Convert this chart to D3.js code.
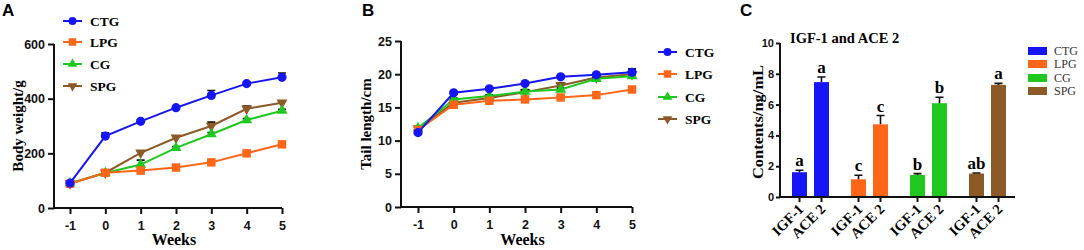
<!DOCTYPE html>
<html>
<head>
<meta charset="utf-8">
<script src="https://cdn.jsdelivr.net/npm/d3@7"></script>
<style>
  body { margin: 0; background: #fff; }
  svg { display: block; }
</style>
</head>
<body>
<div class="chart"></div>
<script>
// ---- data ----
const groups = ["CTG", "LPG", "CG", "SPG"];
const weeks = [-1, 0, 1, 2, 3, 4, 5];

const weightCTG = [91, 263, 317, 367, 412, 455, 478];
const weightLPG = [89, 129, 137, 148, 167, 200, 233];
const weightCG = [90, 128, 159, 220, 270, 322, 356];
const weightSPG = [90, 129, 202, 257, 300, 363, 385];
const weightErrCTG = [4, 12, 6, 5, 18, 6, 16];
const weightErrLPG = [3, 4, 4, 4, 5, 5, 5];
const weightErrCG = [3, 4, 16, 5, 6, 5, 5];
const weightErrSPG = [3, 4, 6, 6, 14, 10, 5];

const tailCTG = [11.2, 17.2, 17.8, 18.6, 19.6, 19.9, 20.3];
const tailLPG = [11.6, 15.4, 16.0, 16.2, 16.5, 16.85, 17.7];
const tailCG = [11.9, 16.2, 16.7, 17.4, 17.7, 19.3, 19.7];
const tailSPG = [11.8, 15.7, 16.4, 17.3, 18.3, 19.5, 20.0];
const tailErrCTG = [0.2, 0.2, 0.2, 0.2, 0.2, 0.2, 0.3];
const tailErrLPG = [0.2, 0.2, 0.2, 0.2, 0.2, 0.2, 0.2];
const tailErrCG = [0.2, 0.2, 0.2, 0.2, 0.2, 0.2, 0.2];
const tailErrSPG = [0.2, 0.2, 0.2, 0.4, 0.4, 0.3, 0.8];

const markers = ["IGF-1", "ACE 2"];
const igf1 = [1.61, 1.15, 1.43, 1.52];
const igf1Err = [0.13, 0.26, 0.09, 0.04];
const ace2 = [7.46, 4.72, 6.09, 7.28];
const ace2Err = [0.33, 0.57, 0.39, 0.1];
const igf1Letters = ["a", "c", "b", "ab"];
const ace2Letters = ["a", "c", "b", "a"];

const colors = ["#1515f5", "#ff6618", "#1ec81e", "#8c5a26"];
const shapes = [d3.symbolCircle, d3.symbolSquare, d3.symbolTriangle, d3.symbolTriangle];

const serif = "'Liberation Serif', 'Times New Roman', serif";
const sans = "'Liberation Sans', Arial, sans-serif";

const svg = d3.select(".chart").append("svg")
  .attr("width", 1084)
  .attr("height", 250);

function panelLetter(x, label) {
  svg.append("text")
    .attr("x", x).attr("y", 16)
    .style("font-family", sans).style("font-weight", "bold").style("font-size", "17px")
    .text(label);
}

function styleAxis(g, size) {
  g.selectAll(".domain").remove();
  g.selectAll(".tick line").attr("stroke", "#111").attr("stroke-width", 2);
  g.selectAll(".tick text")
    .style("font-family", sans).style("font-weight", "bold").style("font-size", size + "px")
    .attr("fill", "#111");
}

function lineChart(opts) {
  const { x, y, series, errs, yTicks, xStart, yLabel, yLabelX, legendX, legendY } = opts;
  const g = svg.append("g");

  // axes
  const xAxis = g.append("g")
    .attr("transform", `translate(0,${y.range()[0]})`)
    .call(d3.axisBottom(x).tickValues(weeks).tickFormat(d => String(d))
      .tickSize(6).tickPadding(5).tickSizeOuter(0));
  styleAxis(xAxis, 12.5);
  xAxis.selectAll(".tick text").attr("dy", "0.85em");

  const yAxis = g.append("g")
    .attr("transform", `translate(${xStart},0)`)
    .call(d3.axisLeft(y).tickValues(yTicks).tickFormat(d => String(d))
      .tickSize(6).tickPadding(3).tickSizeOuter(0));
  styleAxis(yAxis, 12.5);

  g.append("line")
    .attr("x1", xStart).attr("x2", x.range()[1])
    .attr("y1", y.range()[0]).attr("y2", y.range()[0])
    .attr("stroke", "#111").attr("stroke-width", 2);
  g.append("line")
    .attr("x1", xStart).attr("x2", xStart)
    .attr("y1", y.range()[0] + 1).attr("y2", y.range()[1])
    .attr("stroke", "#111").attr("stroke-width", 2);

  // series drawn back to front so CTG ends up on top
  const order = [3, 2, 1, 0];
  order.forEach(i => {
    const pts = weeks.map((w, j) => ({ w, v: series[i][j], e: errs[i][j] }));
    const s = g.append("g");
    s.selectAll(".err").data(pts).join("path")
      .attr("d", d => {
        const px = x(d.w), top = y(d.v + d.e);
        return `M${px},${y(d.v)}V${top}M${px - 4},${top}H${px + 4}`;
      })
      .attr("stroke", "#111").attr("stroke-width", 1.6).attr("fill", "none");
    s.append("path").datum(pts)
      .attr("fill", "none").attr("stroke", colors[i]).attr("stroke-width", 2)
      .attr("d", d3.line().x(d => x(d.w)).y(d => y(d.v)));
    s.selectAll(".pt").data(pts).join("path")
      .attr("transform", d => `translate(${x(d.w)},${y(d.v)})${i === 3 ? " rotate(180)" : ""}`)
      .attr("d", d3.symbol().type(shapes[i]).size(i === 0 ? 66 : i === 1 ? 72 : 52))
      .attr("fill", colors[i]);
  });

  // labels
  g.append("text")
    .attr("x", (xStart + x.range()[1]) / 2 + 6).attr("y", 245)
    .attr("text-anchor", "middle")
    .style("font-family", serif).style("font-weight", "bold").style("font-size", "16px")
    .text("Weeks");
  g.append("text")
    .attr("transform", `translate(${yLabelX},${(y.range()[0] + y.range()[1]) / 2}) rotate(-90)`)
    .attr("text-anchor", "middle")
    .style("font-family", serif).style("font-weight", "bold").style("font-size", "15px")
    .text(yLabel);

  // legend
  groups.forEach((name, i) => {
    const ly = legendY[i];
    g.append("line")
      .attr("x1", legendX).attr("x2", legendX + 19)
      .attr("y1", ly).attr("y2", ly)
      .attr("stroke", colors[i]).attr("stroke-width", 2);
    g.append("path")
      .attr("transform", `translate(${legendX + 9.5},${ly})${i === 3 ? " rotate(180)" : ""}`)
      .attr("d", d3.symbol().type(shapes[i]).size(i === 0 ? 50 : i === 1 ? 56 : 40))
      .attr("fill", colors[i]);
    g.append("text")
      .attr("x", legendX + 27).attr("y", ly + 5)
      .style("font-family", serif).style("font-weight", "bold").style("font-size", "13.5px")
      .text(name);
  });
}

// ---- panel A ----
panelLetter(2, "A");
lineChart({
  x: d3.scaleLinear().domain([-1, 5]).range([70, 282]),
  y: d3.scaleLinear().domain([0, 600]).range([208, 44]),
  series: [weightCTG, weightLPG, weightCG, weightSPG],
  errs: [weightErrCTG, weightErrLPG, weightErrCG, weightErrSPG],
  yTicks: [0, 200, 400, 600],
  xStart: 54,
  yLabel: "Body weight/g",
  yLabelX: 23,
  legendX: 63,
  legendY: [21, 42, 64, 86]
});

// ---- panel B ----
panelLetter(362, "B");
lineChart({
  x: d3.scaleLinear().domain([-1, 5]).range([418, 632]),
  y: d3.scaleLinear().domain([0, 25]).range([207, 41]),
  series: [tailCTG, tailLPG, tailCG, tailSPG],
  errs: [tailErrCTG, tailErrLPG, tailErrCG, tailErrSPG],
  yTicks: [0, 5, 10, 15, 20, 25],
  xStart: 401,
  yLabel: "Tail length/cm",
  yLabelX: 371,
  legendX: 658,
  legendY: [52, 74, 97, 119]
});

// ---- panel C ----
panelLetter(740, "C");
const gc = svg.append("g");
const yC = d3.scaleLinear().domain([0, 10]).range([197, 43]);
const xGroup = d3.scaleBand().domain(groups).range([781, 1017]);
const xInner = d3.scaleBand().domain(markers).range([-22, 22]);
const barW = 15;

const bars = [];
groups.forEach((grp, i) => {
  bars.push({ grp, i, m: "IGF-1", v: igf1[i], e: igf1Err[i], letter: igf1Letters[i] });
  bars.push({ grp, i, m: "ACE 2", v: ace2[i], e: ace2Err[i], letter: ace2Letters[i] });
});
const bx = d => xGroup(d.grp) + xGroup.bandwidth() / 2 + xInner(d.m) + xInner.bandwidth() / 2;

gc.selectAll(".bar").data(bars).join("rect")
  .attr("x", d => bx(d) - barW / 2)
  .attr("y", d => yC(d.v))
  .attr("width", barW)
  .attr("height", d => yC(0) - yC(d.v))
  .attr("fill", d => colors[d.i]);

gc.selectAll(".err").data(bars).join("path")
  .attr("d", d => {
    const px = bx(d), top = yC(d.v + d.e);
    return `M${px},${yC(d.v)}V${top}M${px - 4},${top}H${px + 4}`;
  })
  .attr("stroke", "#111").attr("stroke-width", 1.6).attr("fill", "none");

gc.selectAll(".letter").data(bars).join("text")
  .attr("x", d => bx(d)).attr("y", d => yC(d.v + d.e) - 4)
  .attr("text-anchor", "middle")
  .style("font-family", serif).style("font-weight", "bold").style("font-size", "17px")
  .text(d => d.letter);

const yAxisC = gc.append("g")
  .attr("transform", "translate(780,0)")
  .call(d3.axisLeft(yC).tickValues([0, 2, 4, 6, 8, 10]).tickSize(4).tickPadding(2).tickSizeOuter(0));
styleAxis(yAxisC, 11);

gc.append("line")
  .attr("x1", 780).attr("x2", 1015).attr("y1", yC(0)).attr("y2", yC(0))
  .attr("stroke", "#111").attr("stroke-width", 2);
gc.append("line")
  .attr("x1", 780).attr("x2", 780).attr("y1", yC(0) + 1).attr("y2", yC(10))
  .attr("stroke", "#111").attr("stroke-width", 2);

gc.selectAll(".xtick").data(bars).join("line")
  .attr("x1", d => bx(d)).attr("x2", d => bx(d))
  .attr("y1", yC(0)).attr("y2", yC(0) + 5)
  .attr("stroke", "#111").attr("stroke-width", 2);

gc.selectAll(".xlab").data(bars).join("text")
  .attr("transform", d => `translate(${bx(d) + 5},${yC(0) + 13}) rotate(-45)`)
  .attr("text-anchor", "end")
  .style("font-family", serif).style("font-weight", "bold").style("font-size", "14.5px")
  .text(d => d.m);

gc.append("text")
  .attr("x", 790).attr("y", 43)
  .style("font-family", serif).style("font-weight", "bold").style("font-size", "14.5px")
  .text("IGF-1 and ACE 2");

gc.append("text")
  .attr("transform", `translate(763,${(yC(0) + yC(10)) / 2 + 2}) rotate(-90)`)
  .attr("text-anchor", "middle")
  .attr("textLength", 114).attr("lengthAdjust", "spacingAndGlyphs")
  .style("font-family", serif).style("font-weight", "bold").style("font-size", "14px")
  .text("Contents/ng/mL");

const legC = [51, 64, 78, 91];
groups.forEach((name, i) => {
  gc.append("rect")
    .attr("x", 1028).attr("y", legC[i] - 4).attr("width", 19).attr("height", 8)
    .attr("fill", colors[i]);
  gc.append("text")
    .attr("x", 1054).attr("y", legC[i] + 4)
    .style("font-family", serif).style("font-size", "12px").attr("fill", "#333")
    .text(name);
});
</script>
</body>
</html>
